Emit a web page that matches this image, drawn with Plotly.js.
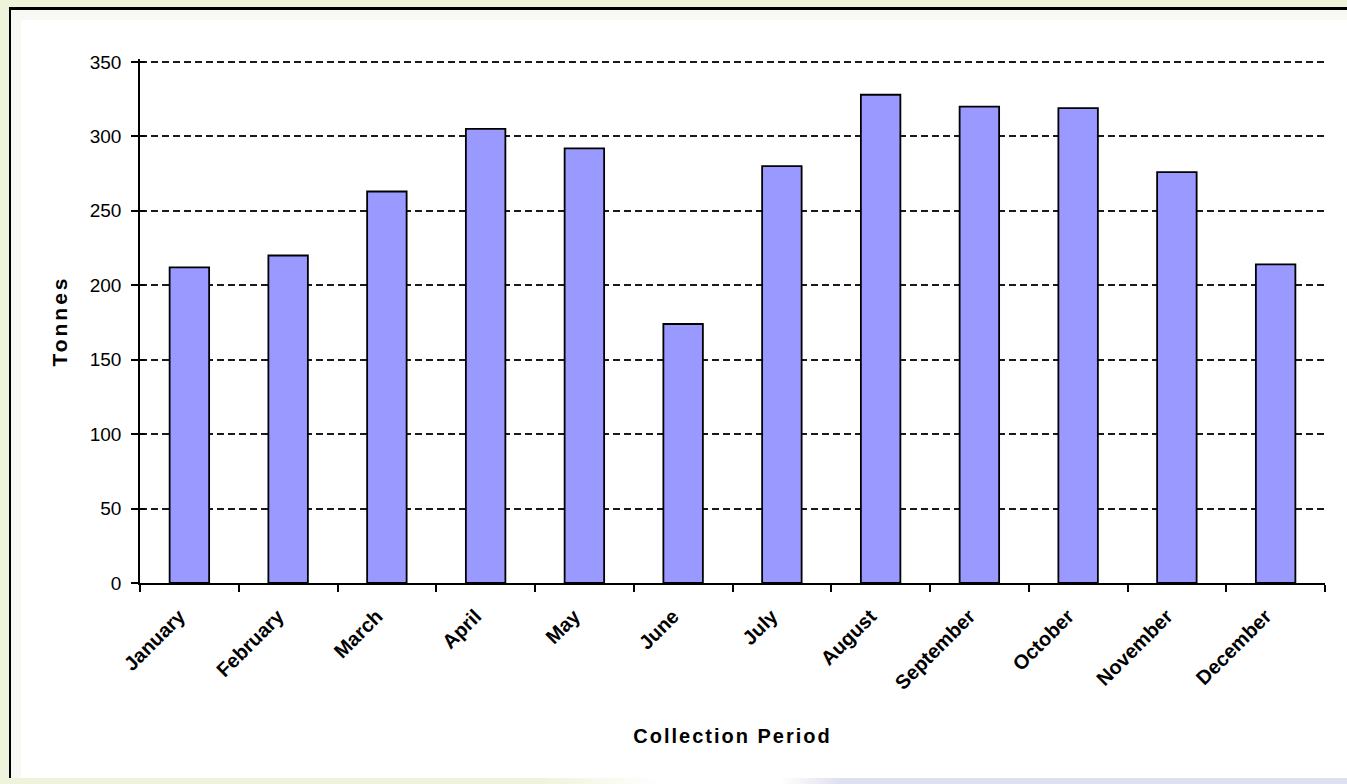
<!DOCTYPE html>
<html>
<head>
<meta charset="utf-8">
<script src="https://cdn.plot.ly/plotly-3.0.1.min.js"></script>
<style>
  html, body { margin: 0; padding: 0; width: 1347px; height: 784px; overflow: hidden; background: #eef4dc; }
  #frame { position: absolute; left: 9px; top: 7px; width: 1400px; height: 771px;
           border-left: 2px solid #000; border-top: 3px solid #000; background: #f8f9f4; box-sizing: border-box; }
  #inner { position: absolute; left: 21px; top: 20px; width: 1340px; height: 758px; background: #fff; }
  #bandR { position: absolute; left: 840px; top: 778px; width: 520px; height: 6px; background: #dfe0ee; }
  #bandM { position: absolute; left: 543px; top: 778px; width: 297px; height: 6px;
           background: linear-gradient(to right, #eef4dc, #ffffff 40%, #ffffff 80%, #dfe0ee); }
  #chart { position: absolute; left: 0; top: 0; width: 1347px; height: 784px; }
  .xtitle { letter-spacing: 2px; }
  .ytitle { letter-spacing: 3px; }
</style>
</head>
<body>
<div id="frame"></div>
<div id="inner"></div>
<div id="bandM"></div>
<div id="bandR"></div>
<div id="chart"></div>
<script>
const months = ["January","February","March","April","May","June","July","August","September","October","November","December"];
const tonnes = [212, 220, 263, 305, 292, 174, 280, 328, 320, 319, 276, 214];
const yTicks = [0, 50, 100, 150, 200, 250, 300, 350];
const xTitle = "Collection Period";
const yTitle = "Tonnes";

const trace = {
  type: "bar",
  x: months,
  y: tonnes,
  marker: { color: "#9999ff", line: { color: "#000000", width: 1.8 } },
  hoverinfo: "x+y"
};

const layout = {
  width: 1347,
  height: 784,
  margin: { l: 140, r: 22, t: 59, b: 201 },
  paper_bgcolor: "rgba(0,0,0,0)",
  plot_bgcolor: "rgba(0,0,0,0)",
  bargap: 0.6,
  showlegend: false,
  font: { family: "Liberation Sans, Arial, sans-serif", color: "#000" },
  xaxis: {
    type: "category",
    range: [-0.5, 11.5],
    autorange: false,
    showline: true, linecolor: "#000", linewidth: 1.5,
    ticks: "outside", ticklen: 7, tickwidth: 1.5, tickcolor: "#000",
    tickson: "boundaries",
    showgrid: false,
    tickangle: -45,
    ticklabelstandoff: 12,
    ticklabelshift: -10,
    tickfont: { size: 20, family: "Liberation Sans, Arial, sans-serif", weight: "bold" },
    title: { text: xTitle, font: { size: 20, weight: "bold" }, standoff: 36 },
    zeroline: false
  },
  yaxis: {
    range: [0, 352],
    autorange: false,
    tickvals: yTicks,
    ticktext: yTicks.map(String),
    showline: true, linecolor: "#000", linewidth: 1.5,
    ticks: "outside", ticklen: 7, tickwidth: 1.5, tickcolor: "#000",
    showgrid: true, gridcolor: "#1a1a1a", gridwidth: 1.5, griddash: "7px,4px",
    tickfont: { size: 19 },
    ticklabelstandoff: 6,
    title: { text: yTitle, font: { size: 21, weight: "bold" }, standoff: 16 },
    zeroline: false
  },
  yaxis2: {
    overlaying: "y",
    matches: "y",
    tickvals: yTicks,
    ticks: "inside", ticklen: 5, tickwidth: 1.5, tickcolor: "#000",
    showticklabels: false, showgrid: false, showline: false, zeroline: false
  }
};

const dummy = { type: "scatter", x: [months[0]], y: [0], yaxis: "y2", mode: "markers", marker: { opacity: 0 }, hoverinfo: "skip", showlegend: false };

Plotly.newPlot("chart", [trace, dummy], layout, { displayModeBar: false });
</script>
</body>
</html>
